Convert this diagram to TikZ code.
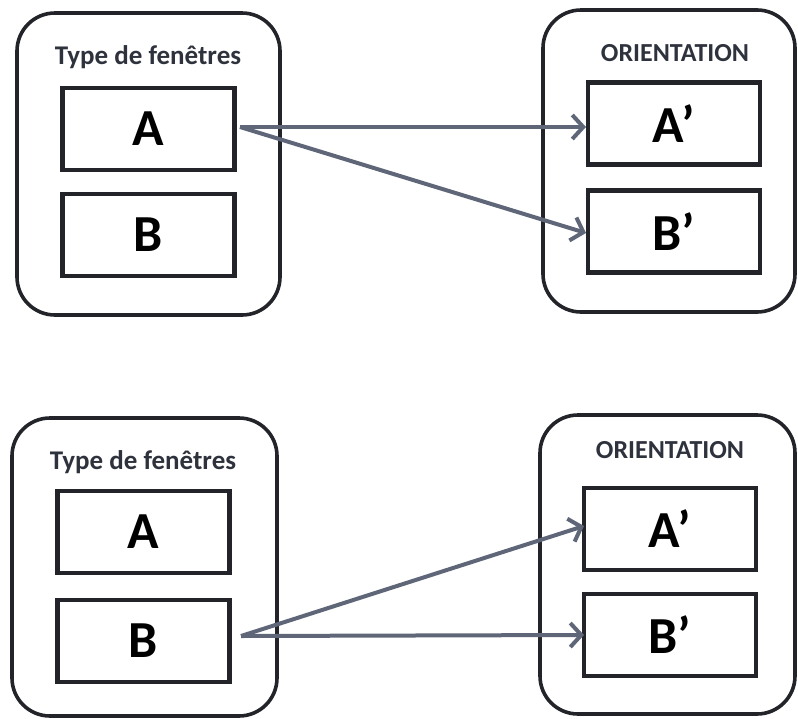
\documentclass[tikz,border=0pt]{standalone}
\usepackage{fontspec}
\setmainfont{Carlito}
\usetikzlibrary{arrows.meta}
\definecolor{frame}{HTML}{222429}
\definecolor{titlec}{HTML}{2E323C}
\definecolor{arrowc}{HTML}{5E6678}
\tikzset{
  outerbox/.style={draw=frame, line width=3.6pt, rounded corners=38pt},
  title/.style={text=titlec, font=\bfseries\fontsize{27}{32}\selectfont, inner sep=0pt},
  titleor/.style={text=titlec, font=\bfseries\fontsize{26}{30}\selectfont, inner sep=0pt},
  item/.style={draw=frame, line width=4.5pt, minimum width=172pt, minimum height=82pt, inner sep=0pt,
     font=\bfseries\fontsize{52}{58}\selectfont},
  link/.style={draw=arrowc, line width=4pt, -{Straight Barb[length=11pt,width=24pt,line width=4pt]}}
}
\begin{document}
\begin{tikzpicture}[x=1pt,y=-1pt]
\useasboundingbox (0,0) rectangle (798,718);
% top left
\draw[outerbox] (17,13) rectangle (280,315);
\node[title] (t1) at (148,57) {Type de fenêtres};
\node[item] (A1) at (148.5,129) {A};
\node[item] (B1) at (148.5,235) {B};
% top right
\draw[outerbox] (543,10) rectangle (795,312);
\node[titleor] (o1) at (675,53) {ORIENTATION};
\node[item] (A1p) at (674,123.5) {A’};
\node[item] (B1p) at (674,231.5) {B’};
\coordinate (s1) at (240,127);
\coordinate (e1) at (586,127);
\coordinate (e2) at (586,233);
\draw[link] (s1) -- (e1);
\draw[link] (s1) -- (e2);
% bottom left
\draw[outerbox] (12,418) rectangle (277,716);
\node[title] (t2) at (143,462) {Type de fenêtres};
\node[item] (A2) at (143.5,532) {A};
\node[item] (B2) at (143.5,641) {B};
% bottom right
\draw[outerbox] (540,415) rectangle (795,714);
\node[titleor] (o2) at (670,450) {ORIENTATION};
\node[item] (A2p) at (670,529) {A’};
\node[item] (B2p) at (670,635) {B’};
\coordinate (s2) at (241,636);
\coordinate (e3) at (584,526);
\coordinate (e4) at (584,635);
\draw[link] (s2) -- (e3);
\draw[link] (s2) -- (e4);
\end{tikzpicture}
\end{document}
